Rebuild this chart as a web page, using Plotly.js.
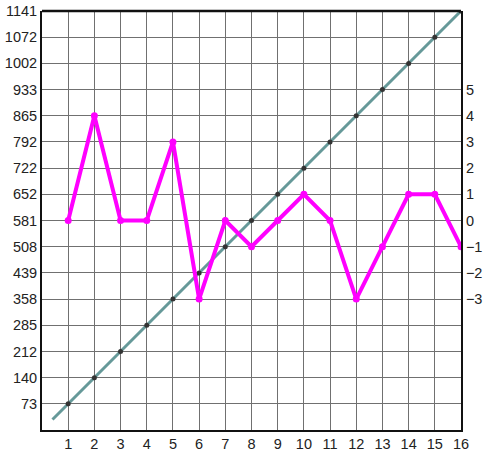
<!DOCTYPE html>
<html><head><meta charset="utf-8">
<script src="https://cdn.plot.ly/plotly-3.0.1.min.js"></script>
<style>html,body{margin:0;padding:0;background:#fff}#c{width:484px;height:455px}</style>
</head><body><div id="c"></div>
<script>
// x categories
const xVals = [1,2,3,4,5,6,7,8,9,10,11,12,13,14,15,16];
// left axis tick labels (evenly spaced levels)
const leftTickLabels = [73,140,212,285,358,439,508,581,652,722,792,865,933,1002,1072,1141];
// gray series values (read as the left-axis labels)
const grayVals = [73,140,212,285,358,439,508,581,652,722,792,865,933,1002,1072,1141];
// gray line lead-in start (x, level)
const grayLeadX = 0.4;
// magenta series (right axis)
const magentaVals = [0,4,0,0,3,-3,0,-1,0,1,0,-3,-1,1,1,-1];
// right axis ticks
const rightTicks = [5,4,3,2,1,0,-1,-2,-3];

const levels = leftTickLabels.map((v,i)=>i+1);
const grayLevels = grayVals.map(v=>leftTickLabels.indexOf(v)+1);

const font = {family:'"Liberation Sans", Arial, sans-serif', size:14.5, color:'#222'};

const traces = [
  {x:xVals, y:magentaVals, yaxis:'y2', mode:'lines+markers',
   line:{color:'#ff00ff', width:4}, marker:{color:'#ff00ff', size:7}, hoverinfo:'none'},
  {x:[grayLeadX].concat(xVals), y:[grayLeadX].concat(grayLevels), mode:'lines',
   line:{color:'#669999', width:3}, hoverinfo:'none'},
  {x:xVals, y:grayLevels, mode:'markers',
   marker:{color:'#333', size:5}, hoverinfo:'none'}
];

const layout = {
  width:484, height:455,
  margin:{l:42, r:23, t:11, b:25, pad:0},
  paper_bgcolor:'#fff', plot_bgcolor:'#fff',
  showlegend:false,
  font:font,
  xaxis:{range:[0,16], tickvals:xVals, ticktext:xVals.map(String), showgrid:true,
    gridcolor:'#707070', gridwidth:1, zeroline:false, showline:true, linecolor:'#111', linewidth:2,
    mirror:false, ticks:'', tickfont:font, fixedrange:true},
  yaxis:{range:[0,16], tickvals:levels, ticktext:leftTickLabels.map(String), showgrid:true,
    gridcolor:'#707070', gridwidth:1, zeroline:false, showline:true, linecolor:'#111', linewidth:2,
    ticks:'', ticklen:0, tickfont:font, fixedrange:true},
  yaxis2:{range:[-8,8], overlaying:'y', side:'right', tickvals:rightTicks,
    ticktext:rightTicks.map(v=>v<0?'\u2212'+Math.abs(v):String(v)),
    showgrid:false, zeroline:false, showline:true, linecolor:'#111', linewidth:2,
    ticks:'', tickfont:font, fixedrange:true},
  shapes:[{type:'line', xref:'paper', yref:'paper', x0:0, x1:1, y0:1, y1:1, line:{color:'#111', width:2.5}}]
};
Plotly.newPlot('c', traces, layout, {displayModeBar:false, staticPlot:true});
</script></body></html>
